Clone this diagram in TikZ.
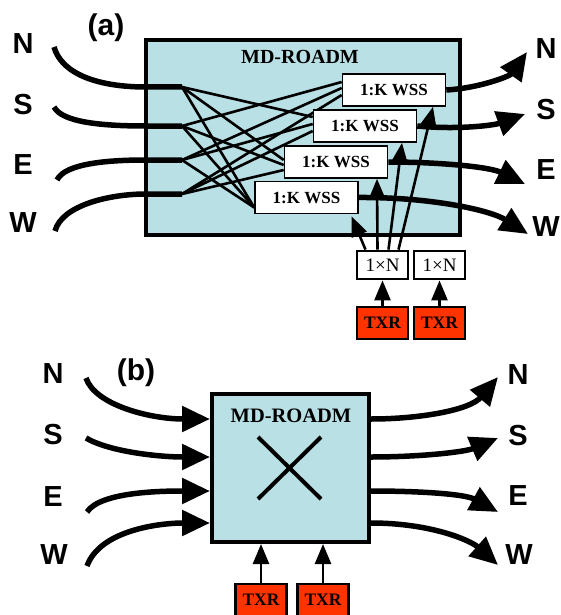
\documentclass[tikz,border=0pt]{standalone}
\usepackage{fontspec}
\setmainfont{Liberation Serif}
\newfontfamily\labfont{Liberation Sans}
\usetikzlibrary{arrows.meta}
\definecolor{boxcyan}{RGB}{185,224,228}
\definecolor{txrred}{RGB}{255,51,0}
\tikzset{
  bigbox/.style={draw=black, line width=4pt, fill=boxcyan, inner sep=0pt},
  wss/.style={draw=black, line width=1.6pt, fill=white, inner sep=0pt, minimum width=103pt, minimum height=32pt, font=\fontsize{17}{17}\selectfont\bfseries},
  onen/.style={draw=black, line width=2.8pt, fill=white, inner sep=0pt, minimum width=51pt, minimum height=28pt, font=\fontsize{19}{19}\selectfont},
  txr/.style={draw=black, line width=2.8pt, fill=txrred, inner sep=0pt, minimum width=51pt, minimum height=32pt, font=\fontsize{17.5}{17.5}\selectfont\bfseries},
  dirlab/.style={font=\labfont\fontsize{29}{29}\selectfont\bfseries, inner sep=0pt},
  partlab/.style={font=\labfont\fontsize{30}{30}\selectfont\bfseries, inner sep=0pt},
  mdlab/.style={font=\fontsize{20}{20}\selectfont\bfseries, inner sep=0pt},
  fatline/.style={line width=5.5pt},
  fatarrow/.style={line width=5.5pt, -{Triangle[length=28pt,width=25pt]}},
  thinline/.style={line width=2.6pt},
  thinarrow/.style={line width=2.6pt, -{Triangle[length=20pt,width=16pt]}},
  crossline/.style={line width=4pt}
}
\begin{document}
\begin{tikzpicture}[x=1pt,y=-1pt]
\useasboundingbox (0,0) rectangle (561,615);

% ---------------- (a) ----------------
\node[partlab] (pa) at (106,28) {(a)};
\node[bigbox, minimum width=314pt, minimum height=195pt] (boxa) at (303,137.5) {};
\node[mdlab] (mda) at (300,57) {MD-ROADM};

\node[dirlab] (lN) at (23,44) {N};
\node[dirlab] (lS) at (23,105) {S};
\node[dirlab] (lE) at (23,165) {E};
\node[dirlab] (lW) at (23,223) {W};
\node[dirlab] (rN) at (546,49) {N};
\node[dirlab] (rS) at (546,110) {S};
\node[dirlab] (rE) at (546,170) {E};
\node[dirlab] (rW) at (546,227) {W};

\coordinate (iN) at (54,47);
\coordinate (iS) at (54,107);
\coordinate (iE) at (57,180);
\coordinate (iW) at (55,231);
\coordinate (fN) at (182,87);
\coordinate (fS) at (182,126);
\coordinate (fE) at (182,160);
\coordinate (fW) at (182,194);

% WSS boxes (placed first for anchors, drawn again on top)
\node[wss] (w1) at (394,90) {1:K WSS};
\node[wss] (w2) at (365,126) {1:K WSS};
\node[wss] (w3) at (336,162) {1:K WSS};
\node[wss] (w4) at (306.5,197.5) {1:K WSS};

% thin interconnect lines
\draw[thinline] (fS) -- ([yshift=8pt]w1.west);
\draw[thinline] (fE) -- ([yshift=2pt]w1.west);
\draw[thinline] (fW) -- ([yshift=-5pt]w1.west);
\draw[thinline] (fN) -- ([yshift=9pt]w2.west);
\draw[thinline] (fE) -- ([yshift=2pt]w2.west);
\draw[thinline] (fW) -- ([yshift=-5pt]w2.west);
\draw[thinline] (fN) -- ([yshift=2pt]w3.west);
\draw[thinline] (fS) -- ([yshift=-3pt]w3.west);
\draw[thinline] (fW) -- ([yshift=-8pt]w3.west);
\draw[thinline] (fN) -- ([yshift=-10pt]w4.west);
\draw[thinline] (fS) -- ([yshift=-10pt]w4.west);
\draw[thinline] (fE) -- ([yshift=-10pt]w4.west);

% thick input curves
\draw[fatline] (iN) .. controls (62,75) and (100,87) .. (146,87) -- (fN);
\draw[fatline] (iS) .. controls (62,122) and (100,126) .. (146,126) -- (fS);
\draw[fatline] (iE) .. controls (65,163) and (110,160) .. (146,160) -- (fE);
\draw[fatline] (iW) .. controls (62,205) and (110,194) .. (146,194) -- (fW);

% redraw WSS boxes on top
\node[wss] at (w1) {1:K WSS};
\node[wss] at (w2) {1:K WSS};
\node[wss] at (w3) {1:K WSS};
\node[wss] at (w4) {1:K WSS};

% output curves
\coordinate (oN) at (527,52);
\coordinate (oS) at (525,114);
\coordinate (oE) at (525,184);
\coordinate (oW) at (528,234);
\draw[fatarrow] (w1.east) .. controls (480,88) and (510,76) .. (oN);
\draw[fatarrow] (w2.east) .. controls (460,130) and (495,125) .. (oS);
\draw[fatarrow] (w3.east) .. controls (440,162) and (490,167) .. (oE);
\draw[fatarrow] (w4.east) .. controls (430,197) and (490,210) .. (oW);

% 1xN and TXR
\node[onen] (n1) at (382.5,265) {1×N};
\node[onen] (n2) at (439.5,265) {1×N};
\node[txr] (t1) at (382.5,323) {TXR};
\node[txr] (t2) at (439.5,323) {TXR};
\draw[thinarrow] (t1.north) -- (n1.south);
\draw[thinarrow] (t2.north) -- (n2.south);
\draw[thinarrow] ([xshift=-17pt]n1.north) -- ([xshift=45pt,yshift=-2pt]w4.south);
\draw[thinarrow] ([xshift=-5pt]n1.north) -- ([xshift=41pt]w3.south);
\draw[thinarrow] ([xshift=6pt]n1.north) -- ([xshift=37pt]w2.south);
\draw[thinarrow] ([xshift=16pt]n1.north) -- ([xshift=39pt]w1.south);

% ---------------- (b) ----------------
\node[partlab] (pb) at (136,373) {(b)};
\node[bigbox, minimum width=157pt, minimum height=148pt] (boxb) at (290.5,468) {};
\node[mdlab, font=\fontsize{20.5}{20.5}\selectfont\bfseries] (mdb) at (291,416) {MD-ROADM};
\coordinate (x1) at (258,437);
\coordinate (x2) at (321,499);
\coordinate (x3) at (258,499);
\coordinate (x4) at (321,437);
\draw[crossline] (x1) -- (x2);
\draw[crossline] (x3) -- (x4);

\node[dirlab] (blN) at (53,374) {N};
\node[dirlab] (blS) at (53,435) {S};
\node[dirlab] (bE) at (53,497) {E};
\node[dirlab] (bW) at (54,555) {W};
\node[dirlab] (brN) at (518,375) {N};
\node[dirlab] (brS) at (518,436) {S};
\node[dirlab] (brE) at (518,496) {E};
\node[dirlab] (brW) at (519,555) {W};

\coordinate (jN) at (86,378);
\coordinate (jS) at (86,438);
\coordinate (jE) at (87,512);
\coordinate (jW) at (87,566);
\draw[fatarrow] (jN) .. controls (95,405) and (150,419) .. (boxb.west |- 0,419);
\draw[fatarrow] (jS) .. controls (110,452) and (160,457) .. (boxb.west |- 0,457);
\draw[fatarrow] (jE) .. controls (100,492) and (160,491) .. (boxb.west |- 0,491);
\draw[fatarrow] (jW) .. controls (100,530) and (160,523) .. (boxb.west |- 0,523);

\coordinate (qN) at (498,377);
\coordinate (qS) at (498,438);
\coordinate (qE) at (498,512);
\coordinate (qW) at (498,565);
\draw[fatarrow] (boxb.east |- 0,419) .. controls (420,419) and (470,410) .. (qN);
\draw[fatarrow] (boxb.east |- 0,457) .. controls (420,457) and (465,452) .. (qS);
\draw[fatarrow] (boxb.east |- 0,491) .. controls (420,491) and (465,494) .. (qE);
\draw[fatarrow] (boxb.east |- 0,523) .. controls (430,523) and (470,540) .. (qW);

\node[txr] (bt1) at (261,600) {TXR};
\node[txr] (bt2) at (323,600) {TXR};
\draw[thinarrow] (bt1.north) -- (bt1.north |- boxb.south);
\draw[thinarrow] (bt2.north) -- (bt2.north |- boxb.south);
\end{tikzpicture}
\end{document}
